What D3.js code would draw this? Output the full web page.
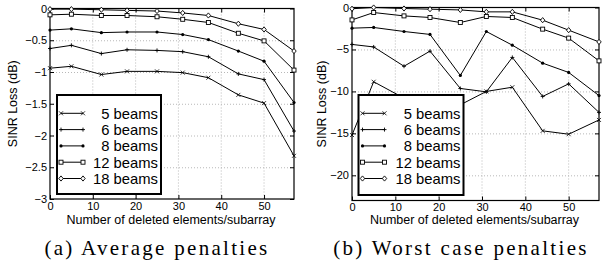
<!DOCTYPE html>
<html><head><meta charset="utf-8">
<script src="https://cdn.jsdelivr.net/npm/d3@7"></script>
<style>
body{margin:0;background:#fff;}
svg{display:block;font-family:"Liberation Sans",Arial,sans-serif;}
</style></head><body>
<svg id="c" width="602" height="267"></svg>
<script>
const xs = [0, 5, 12, 18, 25, 31, 37, 44, 50, 57];
const seriesNames = ["5 beams", "6 beams", "8 beams", "12 beams", "18 beams"];
const markers = ["x", "plus", "dot", "square", "diamond"];
// (a) Average penalties
const avg5  = [-0.94, -0.91, -1.04, -0.99, -0.99, -1.01, -1.09, -1.36, -1.49, -2.32];
const avg6  = [-0.63, -0.58, -0.71, -0.65, -0.66, -0.68, -0.76, -1.03, -1.12, -1.93];
const avg8  = [-0.34, -0.32, -0.38, -0.37, -0.37, -0.41, -0.49, -0.67, -0.83, -1.48];
const avg12 = [-0.10, -0.09, -0.11, -0.11, -0.13, -0.17, -0.22, -0.39, -0.51, -0.97];
const avg18 = [-0.01, -0.01, -0.02, -0.03, -0.04, -0.07, -0.11, -0.24, -0.33, -0.67];
// (b) Worst case penalties
const wst5  = [-15.2, -8.85, -10.8, -11.5, -11.6, -10.0, -9.5, -14.7, -15.1, -13.4];
const wst6  = [-4.4, -4.7, -7.0, -5.2, -9.65, -10.05, -5.95, -10.6, -9.1, -12.5];
const wst8  = [-2.46, -2.38, -2.86, -3.21, -8.1, -2.86, -4.49, -6.63, -7.74, -10.5];
const wst12 = [-1.48, -0.6, -1.0, -1.19, -1.79, -1.07, -1.19, -2.58, -3.65, -6.36];
const wst18 = [-0.15, 0.0, -0.12, -0.2, -0.29, -0.52, -0.52, -1.51, -2.7, -4.1];
const xTicks = [0, 10, 20, 30, 40, 50];
const yTicksA = [0, -0.5, -1, -1.5, -2, -2.5, -3];
const yTicksB = [0, -5, -10, -15, -20];
const xLabel = "Number of deleted elements/subarray";
const yLabel = "SINR Loss (dB)";
const captionA = "(a) Average penalties";
const captionB = "(b) Worst case penalties";

const svg = d3.select("#c");
const fmt = d => d === 0 ? "0" : d3.format("")(d).replace("-", "\u2212");

function panel(cfg){
  const g = svg.append("g");
  const x = d3.scaleLinear().domain([0, 57]).range([cfg.x0, cfg.x1]);
  const y = d3.scaleLinear().domain(cfg.yDom).range([cfg.y1, cfg.y0]);
  // grid
  g.selectAll(".gx").data(xTicks.filter(t => t > 0)).join("line")
    .attr("x1", d => x(d)).attr("x2", d => x(d)).attr("y1", cfg.y0).attr("y2", cfg.y1)
    .attr("stroke", "#b8b8b8").attr("stroke-width", 1).attr("stroke-dasharray", "1,2");
  g.selectAll(".gy").data(cfg.yTicks.filter(t => t > cfg.yDom[0] && t < cfg.yDom[1])).join("line")
    .attr("y1", d => y(d) + 0.5).attr("y2", d => y(d) + 0.5).attr("x1", cfg.x0).attr("x2", cfg.x1)
    .attr("stroke", "#b8b8b8").attr("stroke-width", 1).attr("stroke-dasharray", "1,2");
  // axes
  g.append("g").attr("transform", `translate(0,${cfg.y1})`)
    .call(d3.axisBottom(x).tickValues(xTicks).tickSize(-4).tickPadding(3).tickFormat(fmt));
  g.append("g").attr("transform", `translate(${cfg.x0},0)`)
    .call(d3.axisLeft(y).tickValues(cfg.yTicks).tickSize(-4).tickPadding(3).tickFormat(fmt));
  g.append("g").attr("transform", `translate(0,${cfg.y0})`)
    .call(d3.axisTop(x).tickValues(xTicks).tickSize(-4).tickFormat(""));
  g.append("g").attr("transform", `translate(${cfg.x1},0)`)
    .call(d3.axisRight(y).tickValues(cfg.yTicks).tickSize(-4).tickFormat(""));
  g.selectAll(".domain").remove();
  g.selectAll(".tick text").attr("font-size", 11).attr("fill", "#000")
    .style("font-family", "'Liberation Sans',Arial,sans-serif");
  g.selectAll(".tick line").attr("stroke", "#000");
  g.append("rect").attr("x", cfg.x0).attr("y", cfg.y0).attr("width", cfg.x1 - cfg.x0).attr("height", cfg.y1 - cfg.y0)
    .attr("fill", "none").attr("stroke", "#000").attr("stroke-width", 1.2);
  // lines
  const line = d3.line().x((d, i) => x(xs[i])).y(d => y(d));
  const clip = "clip" + cfg.id;
  svg.append("clipPath").attr("id", clip).append("rect")
    .attr("x", cfg.x0 - 4).attr("y", cfg.y0 - 4).attr("width", cfg.x1 - cfg.x0 + 8).attr("height", cfg.y1 - cfg.y0 + 8);
  const lg = g.append("g").attr("clip-path", `url(#${clip})`);
  cfg.series.forEach((s, k) => {
    lg.append("path").datum(s).attr("d", line).attr("fill", "none").attr("stroke", "#000").attr("stroke-width", 1);
    s.forEach((v, i) => drawMarker(lg, markers[k], x(xs[i]), y(v)));
  });
  // legend
  const L = cfg.legend;
  const leg = g.append("g");
  leg.append("rect").attr("x", L.x).attr("y", L.y).attr("width", L.w).attr("height", L.h)
    .attr("fill", "#fff").attr("stroke", "#000").attr("stroke-width", 2);
  seriesNames.forEach((n, k) => {
    const yy = L.y + 18.3 + k * 16.3;
    leg.append("line").attr("x1", L.x + 4).attr("x2", L.x + 26).attr("y1", yy).attr("y2", yy)
      .attr("stroke", "#000").attr("stroke-width", 1);
    drawMarker(leg, markers[k], L.x + 4, yy);
    drawMarker(leg, markers[k], L.x + 26, yy);
    leg.append("text").attr("x", L.x + L.w - 3).attr("y", yy + 5.3).attr("text-anchor", "end")
      .attr("font-size", 14.8).text(n);
  });
  // labels
  g.append("text").attr("x", (cfg.x0 + cfg.x1) / 2 - 1).attr("y", 224).attr("text-anchor", "middle")
    .attr("font-size", 12.5).text(xLabel);
  g.append("text").attr("transform", `translate(${cfg.ylx},${(cfg.y0 + cfg.y1) / 2}) rotate(-90)`)
    .attr("text-anchor", "middle").attr("font-size", 12.5).text(yLabel);
  g.append("text").attr("x", cfg.capx).attr("y", 255).attr("text-anchor", "middle")
    .style("font-family", "'Liberation Serif','DejaVu Serif',serif").attr("font-size", 21)
    .attr("letter-spacing", 2.3).text(cfg.caption);
}

function drawMarker(g, type, cx, cy){
  const s = 2;
  if (type === "x") {
    g.append("path").attr("d", `M${cx-s},${cy-s}L${cx+s},${cy+s}M${cx-s},${cy+s}L${cx+s},${cy-s}`)
      .attr("stroke", "#000").attr("stroke-width", 0.8).attr("fill", "none");
  } else if (type === "plus") {
    g.append("path").attr("d", `M${cx-s},${cy}L${cx+s},${cy}M${cx},${cy-s}L${cx},${cy+s}`)
      .attr("stroke", "#000").attr("stroke-width", 0.9).attr("fill", "none");
  } else if (type === "dot") {
    g.append("circle").attr("cx", cx).attr("cy", cy).attr("r", 1.6).attr("fill", "#000");
  } else if (type === "square") {
    g.append("rect").attr("x", cx - 2).attr("y", cy - 2).attr("width", 4).attr("height", 4)
      .attr("fill", "#fff").attr("stroke", "#000").attr("stroke-width", 0.9);
  } else if (type === "diamond") {
    g.append("path").attr("d", `M${cx},${cy-2.6}L${cx+2.2},${cy}L${cx},${cy+2.6}L${cx-2.2},${cy}Z`)
      .attr("fill", "#fff").attr("stroke", "#000").attr("stroke-width", 0.9);
  }
}

panel({id: "a", x0: 50, x1: 294, y0: 8.5, y1: 199, yDom: [-3, 0], yTicks: yTicksA,
  series: [avg5, avg6, avg8, avg12, avg18], legend: {x: 57, y: 95, w: 104, h: 99},
  ylx: 17, capx: 157, caption: captionA});
panel({id: "b", x0: 352, x1: 599, y0: 7.5, y1: 200.5, yDom: [-23, 0], yTicks: yTicksB,
  series: [wst5, wst6, wst8, wst12, wst18], legend: {x: 358.5, y: 95, w: 105, h: 100},
  ylx: 326, capx: 461, caption: captionB});
</script>
</body></html>
